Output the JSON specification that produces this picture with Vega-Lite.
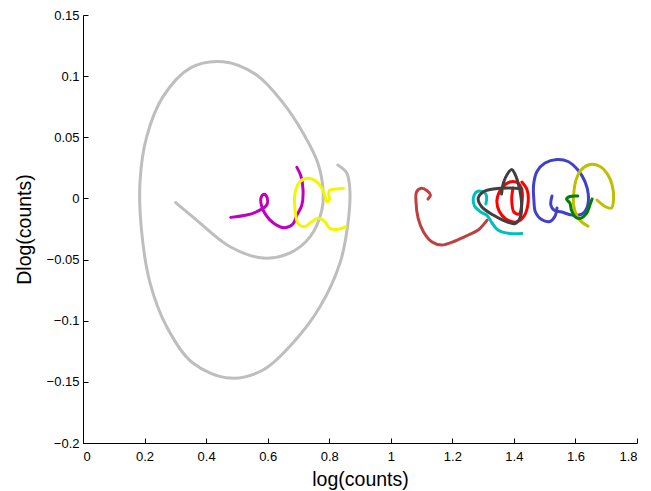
{
  "$schema": "https://vega.github.io/schema/vega-lite/v6.json",
  "autosize": {"type": "none"},
  "padding": {"left": 83, "top": 15, "right": 14, "bottom": 48},
  "width": 554,
  "height": 428,
  "background": "white",
  "config": {
    "view": {"stroke": null},
    "font": "Liberation Sans",
    "axis": {
      "grid": false,
      "domainColor": "black",
      "domainWidth": 1,
      "tickColor": "black",
      "tickSize": -5,
      "labelColor": "black",
      "labelFontSize": 13,
      "labelFont": "Liberation Sans",
      "titleFont": "Liberation Sans",
      "titleFontSize": 19.5,
      "titleFontWeight": "normal",
      "titleColor": "black"
    }
  },
  "data": {
    "values": [
      {"s": "a", "i": 0, "x": 0.301, "y": -0.0035},
      {"s": "a", "i": 1, "x": 0.369, "y": -0.0177},
      {"s": "a", "i": 2, "x": 0.478, "y": -0.0395},
      {"s": "a", "i": 3, "x": 0.585, "y": -0.0487},
      {"s": "a", "i": 4, "x": 0.673, "y": -0.0446},
      {"s": "a", "i": 5, "x": 0.738, "y": -0.0313},
      {"s": "a", "i": 6, "x": 0.776, "y": -0.0095},
      {"s": "a", "i": 7, "x": 0.780, "y": 0.0069},
      {"s": "a", "i": 8, "x": 0.763, "y": 0.0290},
      {"s": "a", "i": 9, "x": 0.715, "y": 0.0535},
      {"s": "a", "i": 10, "x": 0.650, "y": 0.0781},
      {"s": "a", "i": 11, "x": 0.564, "y": 0.1010},
      {"s": "a", "i": 12, "x": 0.455, "y": 0.1118},
      {"s": "a", "i": 13, "x": 0.348, "y": 0.1066},
      {"s": "a", "i": 14, "x": 0.260, "y": 0.0832},
      {"s": "a", "i": 15, "x": 0.207, "y": 0.0505},
      {"s": "a", "i": 16, "x": 0.185, "y": 0.0126},
      {"s": "a", "i": 17, "x": 0.191, "y": -0.0283},
      {"s": "a", "i": 18, "x": 0.218, "y": -0.0692},
      {"s": "a", "i": 19, "x": 0.272, "y": -0.1049},
      {"s": "a", "i": 20, "x": 0.357, "y": -0.1346},
      {"s": "a", "i": 21, "x": 0.478, "y": -0.1469},
      {"s": "a", "i": 22, "x": 0.585, "y": -0.1403},
      {"s": "a", "i": 23, "x": 0.682, "y": -0.1182},
      {"s": "a", "i": 24, "x": 0.770, "y": -0.0886},
      {"s": "a", "i": 25, "x": 0.835, "y": -0.0528},
      {"s": "a", "i": 26, "x": 0.861, "y": -0.0201},
      {"s": "a", "i": 27, "x": 0.867, "y": 0.0069},
      {"s": "a", "i": 28, "x": 0.857, "y": 0.0208},
      {"s": "a", "i": 29, "x": 0.828, "y": 0.0273},

      {"s": "b", "i": 0, "x": 0.480, "y": -0.0155},
      {"s": "b", "i": 1, "x": 0.532, "y": -0.0136},
      {"s": "b", "i": 2, "x": 0.564, "y": -0.0109},
      {"s": "b", "i": 3, "x": 0.597, "y": -0.0054},
      {"s": "b", "i": 4, "x": 0.597, "y": 0.0014},
      {"s": "b", "i": 5, "x": 0.588, "y": 0.0034},
      {"s": "b", "i": 6, "x": 0.578, "y": 0.0001},
      {"s": "b", "i": 7, "x": 0.581, "y": -0.0068},
      {"s": "b", "i": 8, "x": 0.591, "y": -0.0122},
      {"s": "b", "i": 9, "x": 0.608, "y": -0.0177},
      {"s": "b", "i": 10, "x": 0.629, "y": -0.0218},
      {"s": "b", "i": 11, "x": 0.656, "y": -0.0240},
      {"s": "b", "i": 12, "x": 0.682, "y": -0.0209},
      {"s": "b", "i": 13, "x": 0.695, "y": -0.0136},
      {"s": "b", "i": 14, "x": 0.711, "y": -0.0054},
      {"s": "b", "i": 15, "x": 0.715, "y": 0.0069},
      {"s": "b", "i": 16, "x": 0.708, "y": 0.0183},
      {"s": "b", "i": 17, "x": 0.695, "y": 0.0254},

      {"s": "c", "i": 0, "x": 0.854, "y": -0.0231},
      {"s": "c", "i": 1, "x": 0.829, "y": -0.0253},
      {"s": "c", "i": 2, "x": 0.802, "y": -0.0245},
      {"s": "c", "i": 3, "x": 0.786, "y": -0.0191},
      {"s": "c", "i": 4, "x": 0.764, "y": -0.0163},
      {"s": "c", "i": 5, "x": 0.743, "y": -0.0191},
      {"s": "c", "i": 6, "x": 0.721, "y": -0.0231},
      {"s": "c", "i": 7, "x": 0.699, "y": -0.0204},
      {"s": "c", "i": 8, "x": 0.689, "y": -0.0095},
      {"s": "c", "i": 9, "x": 0.689, "y": 0.0042},
      {"s": "c", "i": 10, "x": 0.705, "y": 0.0137},
      {"s": "c", "i": 11, "x": 0.732, "y": 0.0164},
      {"s": "c", "i": 12, "x": 0.759, "y": 0.0137},
      {"s": "c", "i": 13, "x": 0.776, "y": 0.0085},
      {"s": "c", "i": 14, "x": 0.786, "y": 0.0020},
      {"s": "c", "i": 15, "x": 0.793, "y": -0.0029},
      {"s": "c", "i": 16, "x": 0.801, "y": -0.0005},
      {"s": "c", "i": 17, "x": 0.798, "y": 0.0040},
      {"s": "c", "i": 18, "x": 0.802, "y": 0.0069},
      {"s": "c", "i": 19, "x": 0.822, "y": 0.0077},
      {"s": "c", "i": 20, "x": 0.846, "y": 0.0083},

      {"s": "d", "i": 0, "x": 1.121, "y": -0.0005},
      {"s": "d", "i": 1, "x": 1.129, "y": 0.0028},
      {"s": "d", "i": 2, "x": 1.119, "y": 0.0061},
      {"s": "d", "i": 3, "x": 1.100, "y": 0.0083},
      {"s": "d", "i": 4, "x": 1.084, "y": 0.0055},
      {"s": "d", "i": 5, "x": 1.082, "y": -0.0027},
      {"s": "d", "i": 6, "x": 1.089, "y": -0.0163},
      {"s": "d", "i": 7, "x": 1.106, "y": -0.0272},
      {"s": "d", "i": 8, "x": 1.133, "y": -0.0354},
      {"s": "d", "i": 9, "x": 1.165, "y": -0.0381},
      {"s": "d", "i": 10, "x": 1.209, "y": -0.0348},
      {"s": "d", "i": 11, "x": 1.252, "y": -0.0299},
      {"s": "d", "i": 12, "x": 1.284, "y": -0.0258},
      {"s": "d", "i": 13, "x": 1.313, "y": -0.0177},

      {"s": "e", "i": 0, "x": 1.309, "y": -0.0046},
      {"s": "e", "i": 1, "x": 1.311, "y": 0.0020},
      {"s": "e", "i": 2, "x": 1.303, "y": 0.0052},
      {"s": "e", "i": 3, "x": 1.280, "y": 0.0056},
      {"s": "e", "i": 4, "x": 1.269, "y": 0.0011},
      {"s": "e", "i": 5, "x": 1.272, "y": -0.0062},
      {"s": "e", "i": 6, "x": 1.290, "y": -0.0107},
      {"s": "e", "i": 7, "x": 1.313, "y": -0.0140},
      {"s": "e", "i": 8, "x": 1.329, "y": -0.0201},
      {"s": "e", "i": 9, "x": 1.348, "y": -0.0258},
      {"s": "e", "i": 10, "x": 1.387, "y": -0.0287},
      {"s": "e", "i": 11, "x": 1.426, "y": -0.0287},

      {"s": "f", "i": 0, "x": 1.397, "y": 0.0085},
      {"s": "f", "i": 1, "x": 1.393, "y": -0.0013},
      {"s": "f", "i": 2, "x": 1.400, "y": -0.0111},
      {"s": "f", "i": 3, "x": 1.417, "y": -0.0128},
      {"s": "f", "i": 4, "x": 1.426, "y": -0.0038},
      {"s": "f", "i": 5, "x": 1.426, "y": 0.0069},
      {"s": "f", "i": 6, "x": 1.413, "y": 0.0126},
      {"s": "f", "i": 7, "x": 1.387, "y": 0.0134},
      {"s": "f", "i": 8, "x": 1.361, "y": 0.0085},
      {"s": "f", "i": 9, "x": 1.345, "y": -0.0013},
      {"s": "f", "i": 10, "x": 1.352, "y": -0.0103},
      {"s": "f", "i": 11, "x": 1.374, "y": -0.0168},
      {"s": "f", "i": 12, "x": 1.407, "y": -0.0193},
      {"s": "f", "i": 13, "x": 1.433, "y": -0.0144},
      {"s": "f", "i": 14, "x": 1.446, "y": -0.0038},
      {"s": "f", "i": 15, "x": 1.443, "y": 0.0069},
      {"s": "f", "i": 16, "x": 1.426, "y": 0.0134},

      {"s": "g", "i": 0, "x": 1.360, "y": 0.0036},
      {"s": "g", "i": 1, "x": 1.366, "y": 0.0126},
      {"s": "g", "i": 2, "x": 1.379, "y": 0.0200},
      {"s": "g", "i": 3, "x": 1.393, "y": 0.0236},
      {"s": "g", "i": 4, "x": 1.405, "y": 0.0191},
      {"s": "g", "i": 5, "x": 1.417, "y": 0.0093},
      {"s": "g", "i": 6, "x": 1.425, "y": -0.0038},
      {"s": "g", "i": 7, "x": 1.421, "y": -0.0152},
      {"s": "g", "i": 8, "x": 1.404, "y": -0.0205},
      {"s": "g", "i": 9, "x": 1.377, "y": -0.0191},
      {"s": "g", "i": 10, "x": 1.333, "y": -0.0136},
      {"s": "g", "i": 11, "x": 1.296, "y": -0.0070},
      {"s": "g", "i": 12, "x": 1.284, "y": 0.0001},
      {"s": "g", "i": 13, "x": 1.301, "y": 0.0055},
      {"s": "g", "i": 14, "x": 1.333, "y": 0.0077},
      {"s": "g", "i": 15, "x": 1.387, "y": 0.0085},
      {"s": "g", "i": 16, "x": 1.426, "y": 0.0077},

      {"s": "h", "i": 0, "x": 1.524, "y": 0.0020},
      {"s": "h", "i": 1, "x": 1.520, "y": -0.0054},
      {"s": "h", "i": 2, "x": 1.530, "y": -0.0095},
      {"s": "h", "i": 3, "x": 1.556, "y": -0.0111},
      {"s": "h", "i": 4, "x": 1.588, "y": -0.0136},
      {"s": "h", "i": 5, "x": 1.621, "y": -0.0128},
      {"s": "h", "i": 6, "x": 1.637, "y": -0.0079},
      {"s": "h", "i": 7, "x": 1.642, "y": 0.0028},
      {"s": "h", "i": 8, "x": 1.631, "y": 0.0138},
      {"s": "h", "i": 9, "x": 1.608, "y": 0.0232},
      {"s": "h", "i": 10, "x": 1.576, "y": 0.0302},
      {"s": "h", "i": 11, "x": 1.539, "y": 0.0318},
      {"s": "h", "i": 12, "x": 1.501, "y": 0.0289},
      {"s": "h", "i": 13, "x": 1.475, "y": 0.0220},
      {"s": "h", "i": 14, "x": 1.464, "y": 0.0110},
      {"s": "h", "i": 15, "x": 1.465, "y": -0.0013},
      {"s": "h", "i": 16, "x": 1.470, "y": -0.0111},
      {"s": "h", "i": 17, "x": 1.490, "y": -0.0173},
      {"s": "h", "i": 18, "x": 1.517, "y": -0.0189},
      {"s": "h", "i": 19, "x": 1.533, "y": -0.0148},
      {"s": "h", "i": 20, "x": 1.540, "y": -0.0079},

      {"s": "i", "i": 0, "x": 1.670, "y": -0.0013},
      {"s": "i", "i": 1, "x": 1.696, "y": -0.0066},
      {"s": "i", "i": 2, "x": 1.717, "y": -0.0079},
      {"s": "i", "i": 3, "x": 1.724, "y": 0.0003},
      {"s": "i", "i": 4, "x": 1.719, "y": 0.0110},
      {"s": "i", "i": 5, "x": 1.706, "y": 0.0191},
      {"s": "i", "i": 6, "x": 1.680, "y": 0.0261},
      {"s": "i", "i": 7, "x": 1.647, "y": 0.0277},
      {"s": "i", "i": 8, "x": 1.618, "y": 0.0232},
      {"s": "i", "i": 9, "x": 1.602, "y": 0.0150},
      {"s": "i", "i": 10, "x": 1.595, "y": 0.0052},
      {"s": "i", "i": 11, "x": 1.594, "y": -0.0054},
      {"s": "i", "i": 12, "x": 1.605, "y": -0.0144},
      {"s": "i", "i": 13, "x": 1.624, "y": -0.0201},
      {"s": "i", "i": 14, "x": 1.641, "y": -0.0226},

      {"s": "j", "i": 0, "x": 1.608, "y": 0.0020},
      {"s": "j", "i": 1, "x": 1.582, "y": 0.0016},
      {"s": "j", "i": 2, "x": 1.571, "y": -0.0005},
      {"s": "j", "i": 3, "x": 1.582, "y": -0.0038},
      {"s": "j", "i": 4, "x": 1.587, "y": -0.0095},
      {"s": "j", "i": 5, "x": 1.598, "y": -0.0148},
      {"s": "j", "i": 6, "x": 1.615, "y": -0.0164},
      {"s": "j", "i": 7, "x": 1.636, "y": -0.0123},
      {"s": "j", "i": 8, "x": 1.647, "y": -0.0054},
      {"s": "j", "i": 9, "x": 1.654, "y": -0.0005}
    ]
  },
  "mark": {"type": "line", "interpolate": "catmull-rom", "strokeWidth": 3, "strokeCap": "round", "strokeJoin": "round", "clip": true},
  "encoding": {
    "x": {
      "field": "x", "type": "quantitative",
      "scale": {"domain": [0, 1.8], "nice": false, "zero": false},
      "axis": {"title": "log(counts)", "values": [0, 0.2, 0.4, 0.6, 0.8, 1, 1.2, 1.4, 1.6, 1.8], "format": "~g", "labelPadding": 12, "titlePadding": 7}
    },
    "y": {
      "field": "y", "type": "quantitative",
      "scale": {"domain": [-0.2, 0.15], "nice": false, "zero": false},
      "axis": {"title": "Dlog(counts)", "values": [-0.2, -0.15, -0.1, -0.05, 0, 0.05, 0.1, 0.15], "format": "~g", "labelPadding": 9, "titlePadding": 12}
    },
    "order": {"field": "i", "type": "quantitative"},
    "color": {
      "field": "s", "type": "nominal", "legend": null,
      "scale": {
        "domain": ["a", "b", "c", "d", "e", "f", "g", "h", "i", "j"],
        "range": ["#bebebe", "#bf00bf", "#f5f500", "#bf4040", "#00bfbf", "#ff0000", "#404040", "#4040c8", "#bfbf00", "#008000"]
      }
    }
  }
}
